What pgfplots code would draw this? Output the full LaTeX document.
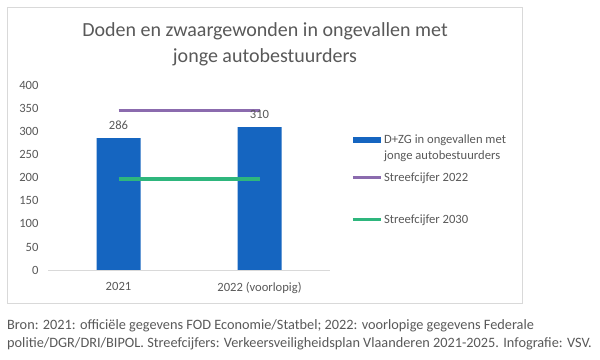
\documentclass[border=0pt]{standalone}
\usepackage{fontspec}
\setmainfont{Carlito}
\usepackage{pgfplots}
\pgfplotsset{compat=1.18}
\definecolor{barblue}{HTML}{1565C0}
\definecolor{lpurple}{HTML}{8B6BAE}
\definecolor{lgreen}{HTML}{2EB67D}
\definecolor{txt}{HTML}{595959}
\definecolor{frame}{HTML}{D9D9D9}
\begin{document}
\begin{tikzpicture}[x=1pt,y=1pt]
\useasboundingbox (0,0) rectangle (600,359);
\fill[white] (0,0) rectangle (600,359);
\draw[frame, line width=0.9pt] (7,56) rectangle (522,352);
\node[text=txt, font=\fontsize{20}{26}\selectfont, align=center] at (265,315) {Doden en zwaargewonden in ongevallen met\\jonge autobestuurders};
\begin{axis}[
  at={(48pt,89pt)}, anchor=south west,
  scale only axis, width=282pt, height=184.3pt,
  xmin=-0.5, xmax=1.5, ymin=0, ymax=400,
  xtick={0,1}, xticklabels={2021, 2022 (voorlopig)},
  ytick={0,50,...,400},
  major tick length=0pt,
  axis line style={draw=none},
  extra y ticks={0}, extra y tick labels={},
  extra y tick style={grid=major, major grid style={draw=frame, line width=0.8pt}},
  /pgf/number format/assume math mode=true,
  tick label style={font=\fontsize{12.6}{14}\selectfont, text=txt},
  yticklabel style={xshift=-6pt},
  xticklabel style={yshift=-8.5pt},
  clip=false,
  legend cell align=left,
  legend style={draw=none, fill=none, at={(1.0745,0.741)}, anchor=north west,
    inner sep=0pt, row sep=0pt, column sep=0pt,
    nodes={inner sep=1.5pt, text=txt, font=\fontsize{12.6}{16}\selectfont},
    cells={align=left}},
]
\addplot[ybar, bar width=44pt, fill=barblue, draw=none,
  nodes near coords, nodes near coords style={font=\fontsize{12.6}{14}\selectfont, text=txt, yshift=5.5pt},
  legend image code/.code={\fill[barblue] (0pt,5pt) rectangle (28pt,11pt);}]
  coordinates {(0,286) (1,310)};
\addlegendentry{D+ZG in ongevallen met\\jonge autobestuurders}
\addplot[lpurple, line width=3.5pt,
  legend image code/.code={\draw[lpurple, line width=3.5pt] (0pt,-4pt) -- (28pt,-4pt);}]
  coordinates {(0,346) (1,346)};
\addlegendentry{\raisebox{0pt}[\dimexpr\height+8pt\relax]{Streefcijfer 2022}}
\addplot[lgreen, line width=3.5pt,
  legend image code/.code={\draw[lgreen, line width=3.5pt] (0pt,-14.5pt) -- (28pt,-14.5pt);}]
  coordinates {(0,198) (1,198)};
\addlegendentry{\raisebox{0pt}[\dimexpr\height+29pt\relax]{Streefcijfer 2030}}
\end{axis}
\node[anchor=north west, text=txt, font=\fontsize{14.3}{18}\selectfont, align=left, inner sep=0pt] at (7,40)
 {Bron: 2021: officiële gegevens FOD Economie/Statbel; 2022: voorlopige gegevens Federale\\politie/DGR/DRI/BIPOL. Streefcijfers: Verkeersveiligheidsplan Vlaanderen 2021-2025. Infografie: VSV.};
\end{tikzpicture}
\end{document}
